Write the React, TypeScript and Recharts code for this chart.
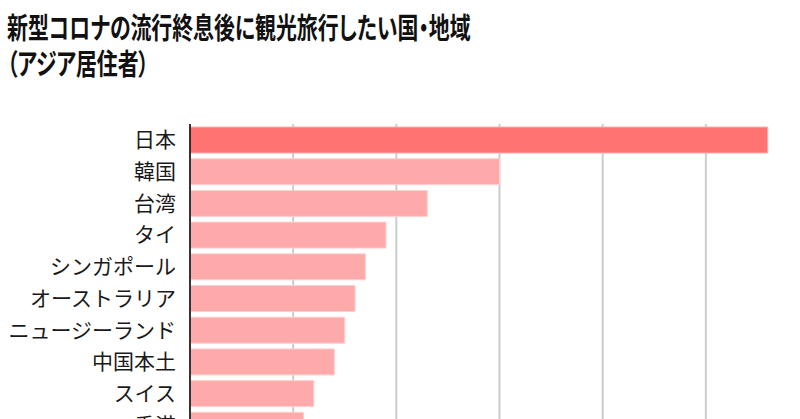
import { BarChart, Bar, XAxis, YAxis, CartesianGrid, Cell } from "recharts";

// 新型コロナ終息後に観光旅行したい国・地域（アジア居住者）, 単位: %
const countries = [
  "日本",
  "韓国",
  "台湾",
  "タイ",
  "シンガポール",
  "オーストラリア",
  "ニュージーランド",
  "中国本土",
  "スイス",
  "香港",
];
const shares = [56, 30, 23, 19, 17, 16, 15, 14, 12, 11];
const xTicks = [0, 10, 20, 30, 40, 50, 60];

const TOP_COLOR = "#ff7373";
const BAR_COLOR = "#ffaaaa";
const FONT = "'Noto Sans CJK JP', 'Noto Sans', sans-serif";

const data = countries.map((name, i) => ({ name, value: shares[i] }));

const titleLine = {
  fontSize: 29,
  fontWeight: 700,
  lineHeight: "36px",
  height: 36,
  color: "#111",
  fontFeatureSettings: "'palt'",
  transform: "scaleX(0.72)",
  transformOrigin: "left top",
  whiteSpace: "nowrap" as const,
};

export default function App() {
  return (
    <div
      style={{
        position: "fixed",
        top: 0,
        left: 0,
        width: 800,
        height: 419,
        overflow: "hidden",
        background: "#ffffff",
        fontFamily: FONT,
      }}
    >
      <div style={{ position: "absolute", left: 7, top: 8 }}>
        <div style={titleLine}>新型コロナの流行終息後に観光旅行したい国・地域</div>
        <div style={titleLine}>（アジア居住者）</div>
      </div>
      <div style={{ position: "absolute", left: 0, top: 0 }}>
        <BarChart
          width={830}
          height={451}
          data={data}
          layout="vertical"
          margin={{ top: 124, right: 21, bottom: 10, left: 0 }}
        >
          <CartesianGrid horizontal={false} stroke="#cccccc" strokeWidth={2} />
          <XAxis type="number" domain={[0, 60]} ticks={xTicks} hide />
          <YAxis
            type="category"
            dataKey="name"
            width={190}
            tickLine={false}
            tickSize={0}
            tickMargin={14}
            axisLine={{ stroke: "#000000", strokeWidth: 1.5 }}
            tick={{ fill: "#1a1a1a", fontSize: 21, fontFamily: FONT }}
            interval={0}
          />
          <Bar dataKey="value" barSize={26} isAnimationActive={false}>
            {data.map((entry, index) => (
              <Cell
                key={`cell-${index}`}
                fill={index === 0 ? TOP_COLOR : BAR_COLOR}
                stroke={index === 0 ? "#ffb0b0" : "#ffd0d0"}
                strokeWidth={1}
              />
            ))}
          </Bar>
        </BarChart>
      </div>
    </div>
  );
}
